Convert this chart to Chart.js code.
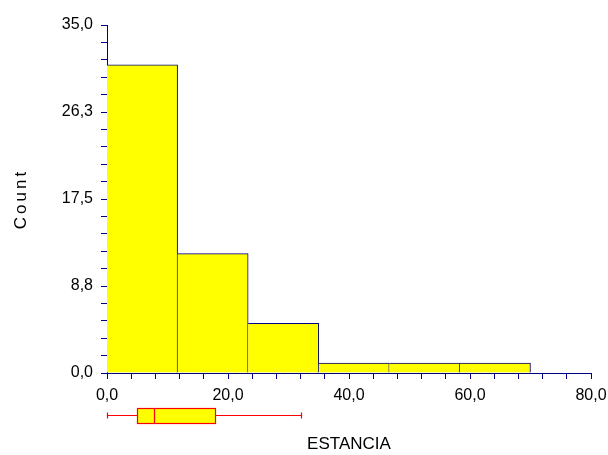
<!DOCTYPE html>
<html>
<head>
<meta charset="utf-8">
<script src="https://cdn.jsdelivr.net/npm/chart.js@4.4.0/dist/chart.umd.min.js"></script>
<style>
html, body { margin: 0; padding: 0; background: #ffffff; }
#wrap { width: 608px; height: 455px; }
</style>
</head>
<body>
<div id="wrap"><canvas id="hist_chart"></canvas></div>
<script>
// histogram of ESTANCIA, 6 equal bins
const bin_edges = [0, 11.67, 23.33, 35, 46.67, 58.33, 70];
const bin_counts = [31, 12, 5, 1, 1, 1];
// box plot below the axis: min, q1, median, q3, max
const box_stats = [0, 5, 7.8, 17.9, 32];
// labelled ticks
const y_tick_labels = [0, 8.75, 17.5, 26.25, 35];
const x_tick_labels = [0, 20, 40, 60, 80];

const NAVY = '#000080';
const FAMILY = "'Liberation Sans', Arial, sans-serif";
const FONT = { family: FAMILY, size: 16 };

function fmt(v){
	return v.toFixed(1).replace('.', ',');
}

function isLabelled(list, v){
	return list.some(t => Math.abs(t - v) < 1e-6);
}

const boxPlotPlugin = {
	/*
	Draws the horizontal box plot under the x axis using the x scale,
	and the spaced-out y axis title.
	*/
	id: 'boxplot',
	afterDraw(chart){
		const c = chart.ctx;
		const xs = chart.scales.x;
		const area = chart.chartArea;
		const top = Math.round(area.bottom + 35) + 0.5;
		const h = 15;
		const mid = top + 7;
		const px = box_stats.map(v => Math.round(xs.getPixelForValue(v)) + 0.5);
		c.save();
		c.strokeStyle = 'rgb(255, 0, 0)';
		c.lineWidth = 1.2;
		c.beginPath();
		c.moveTo(px[0], mid); c.lineTo(px[1], mid);
		c.moveTo(px[3], mid); c.lineTo(px[4], mid);
		c.moveTo(px[0], mid - 3); c.lineTo(px[0], mid + 3);
		c.moveTo(px[4], mid - 3); c.lineTo(px[4], mid + 3);
		c.stroke();
		c.fillStyle = 'rgb(255, 255, 0)';
		c.fillRect(px[1], top, px[3] - px[1], h);
		c.strokeRect(px[1], top, px[3] - px[1], h);
		c.beginPath();
		c.moveTo(px[2], top); c.lineTo(px[2], top + h);
		c.stroke();
		c.restore();

		// y title
		c.save();
		c.translate(21, (area.top + area.bottom) / 2);
		c.rotate(-Math.PI / 2);
		c.font = '17px ' + FAMILY;
		c.letterSpacing = '3px';
		c.fillStyle = '#000000';
		c.textAlign = 'center';
		c.textBaseline = 'middle';
		c.fillText('Count', 0, 0);
		c.restore();
	}
};

const hist_data = bin_counts.map((n, i) => ({ x: (bin_edges[i] + bin_edges[i + 1]) / 2, y: n }));

const ctx = document.getElementById('hist_chart').getContext('2d');
const hist_chart = new Chart(ctx, {
	type: 'bar',
	data: {
		datasets: [{
			data: hist_data,
			backgroundColor: '#ffff00',
			borderColor: NAVY,
			borderWidth: { top: 1, right: 1, left: 0, bottom: 0 },
			barThickness: 'flex',
			barPercentage: 1,
			categoryPercentage: 1
		}]
	},
	options: {
		responsive: true,
		maintainAspectRatio: false,
		animation: false,
		layout: { padding: { top: 25, right: 17, left: 0, bottom: 0 } },
		plugins: {
			legend: { display: false },
			tooltip: { enabled: false }
		},
		scales: {
			x: {
				type: 'linear',
				offset: false,
				min: 0,
				max: 80,
				ticks: {
					stepSize: 4,
					autoSkip: false,
					maxRotation: 0,
					padding: 7,
					color: '#000000',
					font: FONT,
					callback: (v) => isLabelled(x_tick_labels, v) ? fmt(v) : ''
				},
				grid: { offset: false, drawOnChartArea: false, color: NAVY, tickLength: 6 },
				border: { color: NAVY, width: 1 },
				title: {
					display: true,
					text: 'ESTANCIA',
					color: '#000000',
					font: { family: FAMILY, size: 17 },
					padding: { top: 0, bottom: 0 }
				},
				afterFit: (scale) => {
					scale.height = 82;
					scale.paddingLeft = 0;
					scale.paddingRight = 0;
				}
			},
			y: {
				min: 0,
				max: 35,
				ticks: {
					stepSize: 1.75,
					autoSkip: false,
					padding: 8,
					color: '#000000',
					font: FONT,
					callback: (v) => isLabelled(y_tick_labels, v) ? fmt(v) : ''
				},
				grid: { drawOnChartArea: false, color: NAVY, tickLength: 6 },
				border: { color: NAVY, width: 1 },
				afterFit: (scale) => { scale.width = 107; }
			}
		}
	},
	plugins: [boxPlotPlugin]
});
</script>
</body>
</html>
